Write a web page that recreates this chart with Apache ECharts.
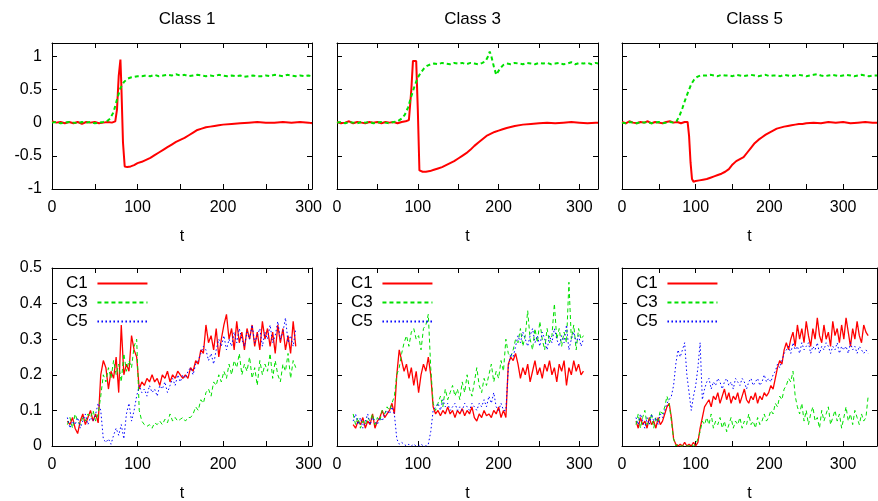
<!DOCTYPE html>
<html>
<head>
<meta charset="utf-8">
<script src="https://cdn.jsdelivr.net/npm/echarts@6/dist/echarts.min.js"></script>
<style>
html, body { margin: 0; padding: 0; background: #fff; }
#chart { width: 878px; height: 501px; }
</style>
</head>
<body>
<div id="chart"></div>
<script>
// ---- top row: Class 1 / 3 / 5 (red solid, green dashed)
const tRed1 = [0,5,10,15,20,25,30,35,40,45,50,55,60,65,70,74,76,78,80,81,83,85,88,92,96,100,105,110,115,120,125,130,135,140,145,150,155,160,165,170,175,180,185,190,195,200,210,220,230,240,250,260,270,280,290,300,304]
const red1 = [0.02,0,0.01,-0.01,0.01,-0.01,0.01,-0.02,0.01,0,0.01,-0.01,0,0.01,0,
  0.02,0.2,0.7,0.95,0.6,-0.3,-0.66,-0.67,-0.66,-0.64,
  -0.61,-0.59,-0.56,-0.53,-0.49,-0.45,-0.41,-0.37,-0.33,-0.29,-0.26,-0.23,-0.19,-0.15,-0.11,-0.09,-0.07,-0.06,-0.05,-0.04,-0.03,
  -0.02,-0.01,0,0.01,0,0,0.01,0,0.01,0,-0.01]
const tGreen1 = [0,5,10,15,20,25,30,35,40,45,50,55,60,64,68,72,76,80,84,88,92,96,100,105,110,115,120,125,130,135,140,145,150,155,160,165,170,175,180,185,190,195,200,205,210,215,220,225,230,235,240,245,250,255,260,265,270,275,280,285,290,295,300,304]
const green1 = [0,0.01,-0.01,0,0.01,0,-0.01,0.01,0,0.01,-0.01,0,0.01,
  0.02,0.06,0.16,0.35,0.52,0.61,0.66,0.68,0.69,0.7,
  0.7,0.71,0.7,0.72,0.7,0.71,0.72,0.71,0.73,0.71,0.72,0.7,0.71,0.72,0.71,0.7,0.71,0.7,0.72,0.71,
  0.7,0.71,0.7,0.71,0.69,0.7,0.71,0.7,0.7,0.71,0.7,0.72,0.71,0.7,0.72,0.71,0.7,0.71,0.7,0.71,0.7]

const tRed2 = [0,5,10,15,20,25,30,35,40,45,50,55,60,65,70,75,80,85,89,92,94,96,98,100,102,106,110,115,120,125,130,135,140,145,150,155,160,165,170,175,180,185,190,195,200,205,210,220,230,240,250,260,270,280,290,300,310,320,323]
const red2 = [0.01,-0.01,0,0.02,-0.01,0.01,0,-0.01,0.01,0,0.01,-0.01,0.01,0,0.01,-0.01,0.01,0.02,
  0.04,0.5,0.93,0.95,0.93,0.2,-0.72,-0.74,-0.74,
  -0.73,-0.71,-0.69,-0.67,-0.64,-0.61,-0.58,-0.54,-0.5,-0.46,-0.41,-0.35,-0.3,-0.25,-0.2,-0.17,-0.14,-0.12,-0.1,-0.08,
  -0.05,-0.03,-0.02,-0.01,0,-0.01,0,0.01,0,-0.01,0,0]
const tGreen2 = [0,5,10,15,20,25,30,35,40,45,50,55,60,65,70,75,80,84,88,92,96,100,104,108,112,116,120,125,130,135,140,145,150,155,160,165,170,175,180,184,187,189,191,194,197,199,202,206,210,215,220,225,230,235,240,245,250,255,260,265,270,275,280,285,290,295,300,305,310,315,320,323]
const green2 = [0,0.01,-0.01,0.01,0,-0.01,0.01,0,0.01,-0.01,0,0.01,0,-0.01,0.01,0.02,
  0.06,0.12,0.23,0.4,0.55,0.68,0.76,0.82,0.86,0.88,0.89,
  0.88,0.9,0.89,0.88,0.9,0.89,0.9,0.88,0.9,0.89,0.88,0.9,
  0.93,1.0,1.07,1.0,0.85,0.72,0.7,0.82,0.87,0.89,
  0.88,0.9,0.89,0.88,0.9,0.89,0.88,0.9,0.89,0.9,0.88,0.89,0.9,0.88,0.89,0.91,0.88,0.9,0.89,0.9,0.88,0.9,
  0.89]

const tRed3 = [0,5,10,15,20,25,30,35,40,45,50,55,60,65,70,75,80,85,89,91,93,95,97,100,105,110,115,120,125,130,135,140,145,150,155,160,165,170,175,180,185,190,195,200,205,210,215,220,225,230,235,240,245,250,260,270,280,290,300,310,320,330,340,346]
const red3 = [0.01,-0.01,0.02,0,-0.01,0.01,0,0.02,-0.01,0.01,0,-0.01,0.01,0.02,0,0.01,-0.01,0.01,
  0.01,-0.2,-0.6,-0.85,-0.89,-0.88,
  -0.87,-0.86,-0.85,-0.83,-0.81,-0.79,-0.77,-0.74,-0.7,-0.63,-0.58,-0.55,-0.52,-0.45,-0.38,-0.31,-0.26,-0.22,-0.18,-0.15,-0.12,-0.09,-0.075,-0.06,-0.05,-0.04,-0.03,-0.02,-0.02,-0.01,
  0,-0.01,0.01,0,0.01,-0.01,0,0.01,0,
  0]
const tGreen3 = [0,5,10,15,20,25,30,35,40,45,50,55,60,65,70,74,78,82,86,90,94,98,102,106,110,115,120,125,130,135,140,145,150,155,160,165,170,175,180,185,190,195,200,205,210,215,220,225,230,235,240,245,250,255,260,265,270,275,280,285,290,295,300,305,310,315,320,325,330,335,340,346]
const green3 = [0,-0.01,0.01,0,-0.01,0.01,0,0.01,-0.01,0,0.01,-0.01,0,0.01,0,
  0.02,0.1,0.22,0.35,0.47,0.58,0.65,0.69,0.71,0.71,
  0.71,0.72,0.71,0.7,0.72,0.71,0.71,0.7,0.72,0.71,0.7,0.71,0.72,0.71,0.7,0.71,0.72,0.7,0.71,0.71,
  0.7,0.72,0.71,0.7,0.71,0.72,0.71,0.7,0.71,0.72,0.73,0.71,0.7,0.71,0.72,0.71,0.7,0.71,0.72,0.71,
  0.7,0.71,0.72,0.71,0.7,0.71,
  0.71]

// ---- bottom row: C1 / C3 / C5
const tB1 = [18,21,24,27,30,33,36,39,42,45,48,51,54,57,60,63,66,69,72,75,78,81,84,87,90,93,96,99,102,105,108,111,114,117,120,123,126,129,132,135,138,141,144,147,150,153,156,159,162,165,168,171,174,177,180,183,186,189,192,195,198,201,204,207,210,213,216,219,222,225,228,231,234,237,240,243,246,249,252,255,258,261,264,267,270,273,276,279,282,285]
const c1B1 = [0.07,0.06,0.08,0.05,0.035,0.07,0.09,0.06,0.08,0.1,0.07,0.09,0.065,
  0.2,0.24,0.22,0.16,0.21,0.19,0.25,0.15,0.34,0.2,0.23,0.21,0.31,0.27,0.25,
  0.16,0.18,0.17,0.19,0.18,0.2,0.18,0.19,0.17,0.2,0.19,0.21,0.18,0.2,0.19,0.21,0.2,0.19,0.2,0.19,
  0.22,0.21,0.24,0.23,0.27,0.26,
  0.34,0.29,0.31,0.27,0.33,0.25,0.3,0.34,0.37,0.3,0.33,0.27,0.35,0.29,0.32,0.27,0.33,0.3,0.34,0.28,0.32,0.27,0.35,0.3,0.33,0.28,0.32,0.26,0.34,0.29,0.33,0.27,0.31,0.26,0.35,0.28]
const c3B1 = [0.06,0.08,0.05,0.09,0.07,0.06,0.08,0.07,0.09,0.08,0.1,0.07,0.09,
  0.14,0.2,0.18,0.22,0.19,0.24,0.2,0.23,0.18,0.26,0.21,0.24,0.22,0.28,0.3,
  0.1,0.07,0.06,0.055,0.06,0.05,0.065,0.06,0.07,0.06,0.075,0.065,0.09,0.07,0.08,0.07,0.075,0.08,0.07,0.08,
  0.08,0.09,0.11,0.1,0.13,0.12,
  0.15,0.16,0.14,0.18,0.17,0.2,0.18,0.21,0.19,0.23,0.2,0.24,0.22,0.26,0.2,0.23,0.21,0.25,0.19,0.22,0.17,0.24,0.2,0.23,0.21,0.26,0.19,0.24,0.2,0.18,0.23,0.21,0.26,0.19,0.24,0.22]
const c5B1 = [0.08,0.05,0.07,0.06,0.08,0.05,0.07,0.09,0.06,0.08,0.07,0.09,0.12,
  0.1,0.02,0.01,0.02,0.005,0.03,0.05,0.03,0.06,0.02,0.09,0.12,0.07,0.1,0.14,
  0.17,0.15,0.16,0.14,0.17,0.15,0.16,0.14,0.17,0.16,0.18,0.15,0.17,0.19,0.17,0.2,0.18,0.2,0.19,0.21,
  0.22,0.2,0.23,0.24,0.26,0.28,
  0.27,0.24,0.26,0.23,0.27,0.3,0.28,0.31,0.27,0.3,0.28,0.32,0.29,0.33,0.3,0.28,0.32,0.3,0.34,0.29,0.31,0.33,0.28,0.32,0.3,0.34,0.29,0.31,0.35,0.3,0.32,0.36,0.29,0.31,0.28,0.33]

const tB2 = [20,23,26,29,32,35,38,41,44,47,50,53,56,59,62,65,68,71,74,77,80,83,86,89,92,95,98,101,104,107,110,113,116,119,122,125,128,131,134,137,140,143,146,149,152,155,158,161,164,167,170,173,176,179,182,185,188,191,194,197,200,203,206,209,212,215,218,221,224,227,230,233,236,239,242,245,248,251,254,257,260,263,266,269,272,275,278,281,284,287,290,293,296,299,302,305]
const c1B2 = [0.06,0.05,0.07,0.06,0.08,0.05,0.07,0.06,0.09,0.05,0.07,0.08,0.1,0.08,0.09,0.1,0.12,
  0.09,0.2,
  0.27,0.24,0.21,0.23,0.19,0.22,0.17,0.21,0.15,0.2,0.23,0.21,0.25,
  0.2,0.11,
  0.09,0.1,0.085,0.1,0.09,0.11,0.09,0.1,0.08,0.1,0.09,0.105,0.085,0.1,0.09,0.11,0.08,0.07,0.09,0.08,0.1,0.085,0.09,0.08,0.1,0.09,0.11,0.08,0.1,
  0.08,0.23,
  0.25,0.24,0.26,0.23,0.19,0.22,0.2,0.23,0.18,0.21,0.24,0.2,0.22,0.19,0.23,0.21,0.24,0.2,0.22,0.18,0.23,0.21,0.24,0.17,0.22,0.2,0.24,0.21,0.23,0.2,0.21]
const c3B2 = [0.09,0.06,0.08,0.05,0.07,0.06,0.08,0.07,0.09,0.06,0.08,0.07,0.1,0.09,0.11,0.1,0.12,
  0.14,0.2,
  0.22,0.26,0.29,0.31,0.28,0.32,0.33,0.3,0.31,0.27,0.33,0.34,0.37,
  0.22,0.12,
  0.1,0.12,0.14,0.11,0.16,0.13,0.15,0.17,0.14,0.16,0.13,0.18,0.15,0.2,0.16,0.14,0.18,0.22,0.17,0.15,0.19,0.17,0.2,0.23,0.18,0.21,0.19,0.24,0.21,
  0.3,0.26,
  0.25,0.27,0.3,0.29,0.33,0.28,0.31,0.38,0.3,0.27,0.33,0.29,0.35,0.3,0.27,0.33,0.29,0.31,0.4,0.3,0.33,0.28,0.32,0.29,0.46,0.3,0.34,0.27,0.33,0.3,0.31]
const c5B2 = [0.07,0.09,0.06,0.08,0.05,0.07,0.09,0.06,0.08,0.07,0.06,0.08,0.07,0.09,0.1,0.09,0.11,
  0.09,0.02,
  0.005,0.01,0.005,0,0.005,0,0.005,0,0,0.005,0,0,0.005,
  0.04,0.1,
  0.11,0.12,0.1,0.13,0.11,0.12,0.1,0.11,0.12,0.1,0.11,0.1,0.12,0.11,0.1,0.12,0.11,0.1,0.12,0.11,0.13,0.11,0.14,0.12,0.15,0.11,0.1,0.12,0.1,
  0.1,0.22,
  0.26,0.25,0.28,0.31,0.29,0.32,0.3,0.28,0.31,0.33,0.29,0.31,0.28,0.32,0.3,0.27,0.31,0.29,0.33,0.3,0.28,0.31,0.29,0.34,0.27,0.3,0.32,0.29,0.31,0.28,0.3]

const tB3 = [19,22,25,28,31,34,37,40,43,46,49,52,55,58,61,64,67,70,73,76,79,82,85,88,91,94,97,100,103,106,109,112,115,118,121,124,127,130,133,136,139,142,145,148,151,154,157,160,163,166,169,172,175,178,181,184,187,190,193,196,199,202,205,208,211,214,217,220,223,226,229,232,235,238,241,244,247,250,253,256,259,262,265,268,271,274,277,280,283,286,289,292,295,298,301,304,307,310,313,316,319,322,325,328,331,334]
const c1B3 = [0.07,0.05,0.08,0.06,0.07,0.05,0.08,0.06,0.07,0.05,0.08,0.06,0.07,
  0.09,0.11,0.12,
  0.08,0.02,
  0.005,0,0.005,0,0.01,0,0.005,0,0.01,0,
  0.01,0.05,0.08,0.11,
  0.12,0.13,0.11,0.14,0.13,0.15,0.12,0.14,0.16,0.13,0.15,0.12,0.14,0.13,0.15,0.12,0.14,0.16,0.13,0.12,0.14,0.13,0.15,0.12,0.14,0.13,0.15,0.14,
  0.15,0.17,0.16,0.19,0.22,0.24,0.23,0.27,0.29,
  0.27,0.3,0.32,0.28,0.34,0.3,0.33,0.29,0.35,0.31,0.28,0.33,0.3,0.36,0.31,0.29,0.34,0.3,0.32,0.28,0.35,0.31,0.33,0.29,0.34,0.3,0.36,0.32,0.28,0.33,0.3,0.35,0.31,0.29,0.34,0.32,0.31]
const c3B3 = [0.06,0.09,0.05,0.08,0.1,0.06,0.07,0.09,0.05,0.08,0.07,0.1,0.09,
  0.11,0.14,0.12,
  0.07,0.02,
  0,0.005,0,0,0.005,0,0,0.005,0,0.005,
  0.02,0.04,0.07,0.06,
  0.08,0.06,0.09,0.05,0.07,0.06,0.08,0.05,0.07,0.04,0.06,0.08,0.05,0.07,0.06,0.08,0.05,0.07,0.06,0.09,0.06,0.07,0.05,0.08,0.06,0.07,0.09,0.07,
  0.08,0.1,0.09,0.12,0.11,0.14,0.13,0.16,0.17,
  0.19,0.18,0.21,0.14,0.11,0.09,0.12,0.07,0.1,0.06,0.09,0.11,0.07,0.08,0.05,0.1,0.07,0.09,0.11,0.06,0.08,0.1,0.07,0.09,0.05,0.08,0.11,0.07,0.09,0.06,0.1,0.08,0.06,0.09,0.07,0.08,0.14]
const c5B3 = [0.08,0.06,0.09,0.07,0.05,0.08,0.06,0.09,0.07,0.08,0.06,0.09,0.08,
  0.1,0.12,0.13,
  0.14,0.17,
  0.23,0.27,0.25,0.27,0.29,0.2,0.15,0.1,0.14,0.17,
  0.22,0.29,0.13,0.16,
  0.18,0.19,0.16,0.18,0.17,0.19,0.18,0.16,0.18,0.19,0.17,0.18,0.16,0.19,0.18,0.17,0.19,0.18,0.16,0.18,0.19,0.17,0.18,0.19,0.17,0.18,0.2,0.18,
  0.19,0.18,0.2,0.21,0.23,0.22,0.24,0.26,0.27,
  0.28,0.26,0.29,0.27,0.28,0.26,0.29,0.27,0.28,0.29,0.26,0.28,0.27,0.29,0.26,0.28,0.27,0.29,0.28,0.26,0.28,0.27,0.29,0.26,0.28,0.27,0.28,0.26,0.29,0.27,0.28,0.26,0.28,0.27,0.26,0.27,0.26]

const titles = ['Class 1', 'Class 3', 'Class 5']
const legendNames = ['C1', 'C3', 'C5']

const FONT = '"Liberation Sans", Arial, sans-serif'
const RED = '#ff0000'
const GREEN = '#00e000'
const BLUE = '#0000ff'

const zip = (t, v) => t.map((x, i) => [x, v[i]]).filter(p => p[1] !== undefined)

// panel boxes (px) and x ranges per column
const boxes = [
  { left: 52, top: 43, width: 260, height: 146 },
  { left: 337, top: 43, width: 261, height: 146 },
  { left: 622, top: 43, width: 255, height: 146 },
  { left: 52, top: 268, width: 260, height: 178 },
  { left: 337, top: 268, width: 261, height: 178 },
  { left: 622, top: 268, width: 255, height: 178 }
]
const xMaxes = [304, 323, 346]

const chart = echarts.init(document.getElementById('chart'))

const xAxis = []
const yAxis = []
boxes.forEach((b, i) => {
  const col = i % 3
  const isTop = i < 3
  const line = { show: true, onZero: false, lineStyle: { color: '#000', width: 1 } }
  const tick = { show: true, inside: true, length: 5, lineStyle: { color: '#000', width: 1 } }
  xAxis.push({
    type: 'value', gridIndex: i, position: 'bottom',
    min: 0, max: xMaxes[col], interval: 50,
    name: 't', nameLocation: 'middle', nameGap: 40,
    nameTextStyle: { color: '#000', fontSize: 16, fontFamily: FONT },
    axisLine: line, axisTick: tick, splitLine: { show: false },
    axisLabel: {
      color: '#000', fontSize: 16, fontFamily: FONT, margin: 11,
      formatter: v => (v % 100 === 0 ? String(v) : '')
    }
  })
  xAxis.push({
    type: 'value', gridIndex: i, position: 'top',
    min: 0, max: xMaxes[col], interval: 50,
    axisLine: line, axisTick: tick, splitLine: { show: false },
    axisLabel: { show: false }
  })
  const yr = isTop ? { min: -1, max: 1.2, interval: 0.5 } : { min: 0, max: 0.5, interval: 0.1 }
  yAxis.push(Object.assign({
    type: 'value', gridIndex: i, position: 'left',
    axisLine: line, axisTick: tick, splitLine: { show: false },
    axisLabel: {
      show: col === 0, color: '#000', fontSize: 16, fontFamily: FONT, margin: 10,
      formatter: v => {
        const step = isTop ? 0.5 : 0.1
        const k = v / step
        return Math.abs(k - Math.round(k)) < 1e-6 ? String(Math.round(k * step * 10) / 10) : ''
      }
    }
  }, yr))
  yAxis.push(Object.assign({
    type: 'value', gridIndex: i, position: 'right',
    axisLine: line, axisTick: tick, splitLine: { show: false },
    axisLabel: { show: false }
  }, yr))
})

const lineSeries = (name, idx, data, color, width, type) => ({
  name, type: 'line', xAxisIndex: idx * 2, yAxisIndex: idx * 2,
  data, symbol: 'none', showSymbol: false, clip: true, silent: true,
  lineStyle: { color, width, type },
  itemStyle: { color }
})

const series = [
  lineSeries('top', 0, zip(tRed1, red1), RED, 2, 'solid'),
  lineSeries('top2', 0, zip(tGreen1, green1), GREEN, 2, [4, 3]),
  lineSeries('top', 1, zip(tRed2, red2), RED, 2, 'solid'),
  lineSeries('top2', 1, zip(tGreen2, green2), GREEN, 2, [4, 3]),
  lineSeries('top', 2, zip(tRed3, red3), RED, 2, 'solid'),
  lineSeries('top2', 2, zip(tGreen3, green3), GREEN, 2, [4, 3]),
  lineSeries('C1', 3, zip(tB1, c1B1), RED, 1.3, 'solid'),
  lineSeries('C3', 3, zip(tB1, c3B1), GREEN, 1, [4, 3]),
  lineSeries('C5', 3, zip(tB1, c5B1), BLUE, 1, [1.5, 2.5]),
  lineSeries('C1', 4, zip(tB2, c1B2), RED, 1.3, 'solid'),
  lineSeries('C3', 4, zip(tB2, c3B2), GREEN, 1, [4, 3]),
  lineSeries('C5', 4, zip(tB2, c5B2), BLUE, 1, [1.5, 2.5]),
  lineSeries('C1', 5, zip(tB3, c1B3), RED, 1.3, 'solid'),
  lineSeries('C3', 5, zip(tB3, c3B3), GREEN, 1, [4, 3]),
  lineSeries('C5', 5, zip(tB3, c5B3), BLUE, 1, [1.5, 2.5])
]

// legend: line sample only, text on the left
const legend = [3, 4, 5].map(i => ({
  data: legendNames, orient: 'vertical', align: 'right',
  left: boxes[i].left + 9, top: 270,
  itemWidth: 50, itemHeight: 10, itemGap: 2, selectedMode: false,
  itemStyle: { opacity: 0 },
  formatter: n => n + ' ',
  textStyle: { color: '#000', fontSize: 17, fontFamily: FONT }
}))

const title = titles.map((t, c) => ({
  text: t, left: boxes[c].left + boxes[c].width / 2, top: 6, textAlign: 'center',
  textStyle: { color: '#000', fontSize: 17, fontWeight: 'normal', fontFamily: FONT }
}))

chart.setOption({
  animation: false,
  backgroundColor: '#fff',
  title,
  legend,
  // keep the panel boxes fixed, do not shrink them to fit labels
  grid: boxes.map(b => Object.assign({ containLabel: false, outerBoundsMode: 'none' }, b)),
  xAxis,
  yAxis,
  series
})
</script>
</body>
</html>
